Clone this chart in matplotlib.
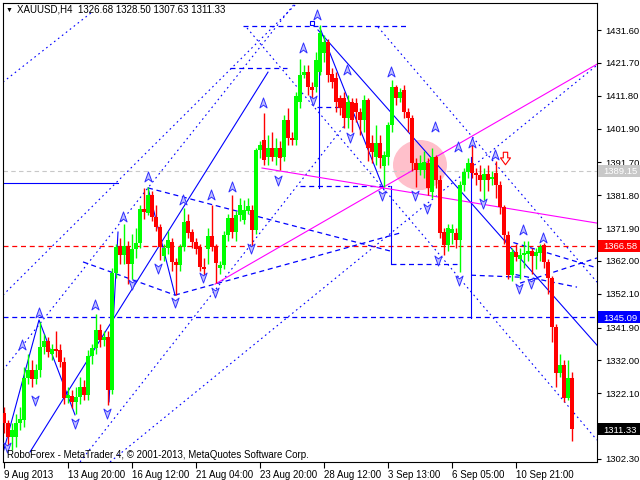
import matplotlib
matplotlib.use("Agg")
import matplotlib.pyplot as plt
import matplotlib.transforms as mtransforms
from matplotlib.path import Path
from matplotlib.patches import Ellipse, Rectangle
import numpy as np

plt.rcParams['font.family'] = ['Liberation Sans', 'DejaVu Sans']

# XAUUSD H4 candles, 9 Aug 2013 .. 11 Sep 2013
opens = [1316.2, 1313.1, 1309.0, 1309.0, 1313.1, 1314.0, 1326.7, 1329.1, 1326.5, 1329.0,
         1336.0, 1337.9, 1334.0, 1335.5, 1335.0, 1331.5, 1320.7, 1321.3, 1319.5, 1321.0,
         1324.0, 1321.5, 1333.3, 1335.8, 1341.2, 1338.2, 1339.1, 1323.1, 1358.4, 1366.2,
         1363.8, 1366.5, 1361.0, 1365.5, 1367.5, 1377.6, 1376.4, 1382.0, 1375.2, 1372.2,
         1363.5, 1365.9, 1367.7, 1361.7, 1360.8, 1366.2, 1374.0, 1370.7, 1367.7, 1366.2,
         1360.2, 1365.6, 1369.5, 1366.2, 1359.9, 1360.8, 1369.8, 1374.9, 1370.7, 1375.8,
         1374.3, 1377.0, 1377.3, 1371.3, 1395.4, 1398.4, 1393.3, 1396.0, 1393.3, 1396.0,
         1393.3, 1404.5, 1399.0, 1398.4, 1409.9, 1418.0, 1418.9, 1414.4, 1414.4, 1418.9,
         1424.7, 1428.0, 1418.2, 1417.0, 1411.0, 1411.0, 1405.0, 1409.9, 1409.5, 1406.9,
         1404.5, 1410.5, 1397.5, 1393.3, 1397.5, 1390.5, 1393.3, 1403.0, 1414.4, 1411.1,
         1413.5, 1406.9, 1405.1, 1391.5, 1389.4, 1389.5, 1391.5, 1382.8, 1393.3, 1386.4,
         1370.7, 1366.8, 1370.4, 1370.4, 1368.3, 1384.9, 1388.8, 1391.5, 1388.5, 1387.9,
         1386.4, 1388.2, 1386.7, 1388.5, 1384.9, 1378.2, 1369.8, 1357.7, 1364.7, 1362.6,
         1363.8, 1364.1, 1365.0, 1363.5, 1364.4, 1366.8, 1361.7, 1356.8, 1342.1, 1328.2,
         1330.6, 1320.7, 1326.68]
highs = [1318.0, 1314.0, 1313.0, 1316.0, 1318.0, 1330.0, 1334.0, 1332.0, 1331.0, 1343.6,
         1340.0, 1339.0, 1337.0, 1341.0, 1337.0, 1333.0, 1324.0, 1323.0, 1324.0, 1327.0,
         1326.0, 1335.0, 1337.0, 1346.0, 1343.0, 1341.0, 1341.0, 1360.0, 1367.0, 1369.0,
         1373.0, 1368.0, 1370.0, 1372.0, 1379.0, 1384.0, 1384.3, 1383.0, 1379.0, 1373.0,
         1367.0, 1371.0, 1369.0, 1363.0, 1367.0, 1378.0, 1376.0, 1371.5, 1369.0, 1367.0,
         1363.0, 1372.0, 1378.9, 1367.0, 1362.0, 1371.0, 1376.0, 1382.0, 1377.0, 1381.0,
         1380.4, 1381.0, 1379.0, 1396.0, 1398.0, 1406.6, 1400.0, 1401.0, 1399.0, 1398.0,
         1406.0, 1408.0, 1401.0, 1413.0, 1423.0, 1421.0, 1421.0, 1416.0, 1425.0, 1433.1,
         1430.0, 1429.0, 1420.0, 1419.0, 1412.0, 1413.0, 1412.0, 1411.0, 1411.0, 1408.0,
         1412.0, 1411.0, 1400.0, 1403.0, 1400.0, 1395.0, 1404.0, 1416.5, 1415.0, 1414.0,
         1415.0, 1408.0, 1406.0, 1393.0, 1394.0, 1395.0, 1393.0, 1396.0, 1394.0, 1388.0,
         1372.0, 1373.0, 1373.0, 1372.0, 1386.0, 1390.0, 1393.0, 1397.0, 1390.0, 1391.0,
         1390.0, 1391.0, 1389.0, 1392.0, 1386.0, 1379.0, 1371.0, 1366.0, 1367.0, 1366.0,
         1368.0, 1368.0, 1366.0, 1366.0, 1367.0, 1367.5, 1362.5, 1357.5, 1343.0, 1334.0,
         1332.0, 1332.0, 1328.50]
lows = [1310.0, 1305.9, 1305.0, 1306.0, 1311.0, 1312.0, 1325.0, 1324.0, 1325.0, 1327.0,
        1334.0, 1333.0, 1332.0, 1333.0, 1330.0, 1319.0, 1319.2, 1317.7, 1315.8, 1319.0,
        1320.0, 1320.0, 1331.0, 1334.0, 1336.0, 1336.5, 1318.6, 1322.0, 1357.0, 1361.0,
        1361.0, 1355.0, 1356.5, 1363.0, 1366.0, 1374.5, 1375.8, 1374.0, 1371.0, 1362.3,
        1362.0, 1364.0, 1359.0, 1351.7, 1359.0, 1365.0, 1369.0, 1366.0, 1364.0, 1359.0,
        1357.0, 1361.0, 1365.0, 1355.3, 1358.0, 1359.5, 1368.0, 1369.0, 1368.0, 1374.0,
        1373.0, 1376.0, 1366.2, 1370.0, 1393.0, 1391.0, 1391.0, 1392.0, 1391.0, 1389.4,
        1392.0, 1397.0, 1397.0, 1397.0, 1408.0, 1417.0, 1412.0, 1411.0, 1413.0, 1418.0,
        1422.0, 1416.0, 1414.0, 1407.0, 1406.0, 1402.0, 1402.0, 1401.0, 1404.0, 1400.0,
        1401.0, 1392.0, 1391.5, 1391.0, 1390.0, 1384.3, 1391.0, 1401.0, 1409.0, 1410.0,
        1405.0, 1401.0, 1389.0, 1384.3, 1388.0, 1387.0, 1382.0, 1381.0, 1384.0, 1369.0,
        1363.8, 1365.0, 1367.0, 1366.0, 1358.7, 1383.0, 1387.0, 1387.0, 1385.0, 1383.0,
        1380.4, 1383.0, 1385.0, 1381.0, 1376.0, 1367.0, 1356.5, 1356.0, 1362.0, 1356.5,
        1360.0, 1362.0, 1358.0, 1359.5, 1362.0, 1360.0, 1352.0, 1337.6, 1324.0, 1327.0,
        1319.5, 1320.0, 1307.63]
closes = [1313.1, 1309.0, 1311.0, 1313.1, 1314.5, 1326.7, 1329.1, 1326.5, 1329.0, 1336.0,
          1337.9, 1334.5, 1335.5, 1334.8, 1331.5, 1320.7, 1321.5, 1319.5, 1321.0, 1324.0,
          1321.5, 1333.3, 1335.8, 1341.2, 1338.2, 1339.0, 1323.1, 1358.4, 1366.2, 1363.8,
          1366.5, 1361.0, 1365.5, 1367.5, 1377.6, 1376.8, 1382.0, 1375.2, 1372.2, 1366.2,
          1365.9, 1368.3, 1361.7, 1360.8, 1366.2, 1373.7, 1370.4, 1367.7, 1365.6, 1360.2,
          1359.5, 1369.5, 1366.2, 1361.4, 1360.8, 1369.8, 1374.9, 1370.7, 1375.8, 1378.9,
          1377.3, 1378.5, 1371.3, 1395.4, 1396.9, 1392.4, 1396.0, 1393.3, 1396.0, 1393.0,
          1404.5, 1399.0, 1398.4, 1411.7, 1418.0, 1418.9, 1414.4, 1413.5, 1422.6, 1430.7,
          1428.0, 1418.0, 1416.0, 1409.9, 1408.0, 1405.0, 1409.9, 1404.5, 1406.9, 1404.5,
          1410.5, 1396.0, 1394.8, 1397.5, 1393.0, 1393.9, 1403.0, 1414.4, 1411.1, 1413.0,
          1406.9, 1405.1, 1391.5, 1389.4, 1391.5, 1391.8, 1384.0, 1393.3, 1386.4, 1370.4,
          1366.8, 1371.9, 1371.5, 1368.3, 1384.9, 1388.8, 1391.5, 1388.5, 1387.9, 1386.4,
          1388.2, 1386.4, 1387.3, 1384.9, 1378.2, 1369.8, 1357.7, 1364.7, 1363.2, 1363.8,
          1364.4, 1365.0, 1363.5, 1364.7, 1366.2, 1361.7, 1356.8, 1342.1, 1328.2, 1330.6,
          1320.7, 1326.7, 1311.33]

date_ticks = [0, 16, 32, 48, 64, 80, 96, 112, 128]
date_labels = ['9 Aug 2013', '13 Aug 20:00', '16 Aug 12:00', '21 Aug 04:00', '23 Aug 20:00',
               '28 Aug 12:00', '3 Sep 13:00', '6 Sep 05:00', '10 Sep 21:00']
price_ticks = [1431.60, 1421.70, 1411.80, 1401.90, 1391.70, 1381.80, 1371.90, 1362.00,
               1352.10, 1341.90, 1332.00, 1322.10, 1302.30]

bid_level = 1389.15
res_level = 1366.58
sup_level = 1345.09
last_close = 1311.33

# trend lines as (bar, price) pairs
solid_lines = [
    [(-0.25, 1385.5), (28.5, 1385.5)],
    [(6.5, 1304.4), (66.0, 1418.9)],
    [(-0.25, 1304.1), (8.75, 1344.2), (17.75, 1315.6)],
    [(26.25, 1319.5), (28.5, 1370.7)],
    [(36.0, 1384.0), (42.75, 1351.7)],
    [(78.5, 1431.6), (148.25, 1336.6)],
    [(79.0, 1432.2), (95.0, 1383.4)],
    [(78.75, 1421.6), (78.75, 1384.0)],
    [(96.75, 1384.6), (96.75, 1361.1)],
    [(116.75, 1393.3), (116.75, 1344.8)],
]
dashed_lines = [
    [(59.75, 1432.8), (101.0, 1432.8)],
    [(56.5, 1420.1), (70.75, 1420.1)],
    [(78.25, 1408.4), (89.0, 1408.4)],
    [(74.0, 1384.6), (96.5, 1384.6)],
    [(96.75, 1361.1), (113.25, 1361.1)],
    [(116.75, 1357.7), (129.0, 1357.1)],
    [(36.0, 1384.0), (96.5, 1365.0)],
    [(19.75, 1361.7), (42.75, 1351.7)],
    [(42.75, 1351.7), (99.0, 1370.4)],
    [(125.25, 1368.3), (148.25, 1359.9)],
    [(129.0, 1355.3), (148.25, 1362.9)],
    [(125.75, 1358.4), (143.25, 1354.1)],
]
dotted_lines = [
    [(-0.25, 1415.9), (22.0, 1437.0)],
    [(-0.25, 1351.7), (73.25, 1439.7)],
    [(-0.25, 1329.1), (72.75, 1439.7)],
    [(19.0, 1301.4), (85.25, 1403.0)],
    [(26.5, 1301.4), (148.25, 1421.0)],
    [(93.5, 1432.5), (148.25, 1355.6)],
    [(60.75, 1432.2), (148.25, 1308.0)],
]
magenta_lines = [
    [(52.75, 1355.0), (148.25, 1421.3)],
    [(64.5, 1390.0), (148.25, 1373.4)],
]

up_x = [4.5, 8.75, 22.75, 29.75, 36.0, 44.75, 51.75, 57.0, 64.75, 74.75, 78.25, 85.75,
        96.75, 107.75, 113.5, 117.0, 122.75, 129.75, 134.75]
up_y = [1336.6, 1346.3, 1348.7, 1375.2, 1387.3, 1380.4, 1381.9, 1384.3, 1409.6, 1426.2,
        1436.1, 1419.5, 1418.9, 1402.4, 1396.3, 1397.5, 1393.9, 1371.3, 1368.9]
dn_x = [0.75, 7.75, 17.75, 25.75, 32.0, 38.5, 42.75, 49.75, 52.75, 61.75, 68.5, 77.25,
        86.5, 94.5, 102.75, 105.75, 108.5, 113.75, 119.75, 128.75, 131.75]
dn_y = [1305.9, 1320.1, 1313.1, 1316.2, 1355.0, 1359.9, 1349.6, 1357.1, 1352.6, 1365.9,
        1386.4, 1410.5, 1399.3, 1381.9, 1381.9, 1377.9, 1362.3, 1356.2, 1379.4, 1353.8,
        1355.3]

fig = plt.figure(figsize=(6.4, 4.8), dpi=100)
ax = fig.add_axes([3 / 640, 18 / 480, 594 / 640, 459 / 480])
ax.set_xlim(-0.25, 148.25)
ax.set_ylim(1301.39, 1439.74)

ax.add_patch(Ellipse((104, 1390.9), 13.5, 15.1, color='#ffc0cb', lw=0, zorder=0.5))

ax.axhline(bid_level, color='#c8c8c8', lw=0.8, dashes=(4, 3), zorder=1)
ax.axhline(res_level, color='#ff0000', lw=0.9, dashes=(4, 3), zorder=1)
ax.axhline(sup_level, color='#0000ff', lw=0.9, dashes=(4, 3), zorder=1)

for pts in solid_lines:
    xs, ys = zip(*pts)
    ax.plot(xs, ys, color='#0000ff', lw=0.8, zorder=2)
for pts in dashed_lines:
    xs, ys = zip(*pts)
    ax.plot(xs, ys, color='#0000ff', lw=0.9, dashes=(4, 3), zorder=2)
for pts in dotted_lines:
    xs, ys = zip(*pts)
    ax.plot(xs, ys, color='#0000ff', lw=0.8, dashes=(1.5, 3), zorder=2)
for pts in magenta_lines:
    xs, ys = zip(*pts)
    ax.plot(xs, ys, color='#ff00ff', lw=0.8, zorder=2)

# candles
x = np.arange(len(closes))
o = np.array(opens)
c = np.array(closes)
colors = np.where(c >= o, '#00ff00', '#ff0000')
ax.vlines(x, lows, highs, colors=colors, lw=1.0, zorder=3)
body_h = np.maximum(np.abs(c - o), 0.4)
ax.bar(x, body_h, bottom=np.minimum(o, c), width=0.8, color=colors, linewidth=0, zorder=4)

# fractal arrows
up_mark = Path([(0, 1), (0.65, -0.8), (0, -0.3), (-0.65, -0.8), (0, 1)],
               [Path.MOVETO, Path.LINETO, Path.LINETO, Path.LINETO, Path.CLOSEPOLY])
dn_mark = Path([(0, -1), (0.65, 0.8), (0, 0.3), (-0.65, 0.8), (0, -1)],
               [Path.MOVETO, Path.LINETO, Path.LINETO, Path.LINETO, Path.CLOSEPOLY])
ax.plot(up_x, up_y, ls='none', marker=up_mark, ms=8, mfc='#c0c0ff', mec='#3030ff', mew=0.7, zorder=5)
ax.plot(dn_x, dn_y, ls='none', marker=dn_mark, ms=8, mfc='#c0c0ff', mec='#3030ff', mew=0.7, zorder=5)

ax.plot([77], [1433.7], ls='none', marker='s', ms=3.5, mfc='white', mec='#0000ff', mew=0.8, zorder=5)
red_arrow = Path([(-0.35, 1), (0.35, 1), (0.35, 0.1), (0.8, 0.1), (0, -1), (-0.8, 0.1), (-0.35, 0.1), (-0.35, 1)],
                 [Path.MOVETO] + [Path.LINETO] * 6 + [Path.CLOSEPOLY])
ax.plot([125.25], [1393.0], ls='none', marker=red_arrow, ms=9, mfc='white', mec='#ff0000', mew=0.8, zorder=5)

# axes look
for s in ax.spines.values():
    s.set_color('black')
    s.set_linewidth(0.8)
ax.yaxis.tick_right()
ax.set_yticks(price_ticks)
ax.set_yticklabels(['%.2f' % p for p in price_ticks])
ax.tick_params(axis='y', direction='out', length=3, width=0.8, labelsize=6.8, pad=3, colors='black')
ax.set_xticks(date_ticks)
ax.set_xticklabels(date_labels)
for lab in ax.get_xticklabels():
    lab.set_ha('left')
ax.tick_params(axis='x', direction='out', length=4, width=0.8, labelsize=7, pad=2, colors='black')

# price boxes on the right scale
ftrans = mtransforms.blended_transform_factory(fig.transFigure, ax.transData)
for val, bg in [(bid_level, '#c8c8c8'), (res_level, '#ff0000'), (sup_level, '#0000ff'), (last_close, '#000000')]:
    fig.patches.append(Rectangle((598 / 640, val - 1.75), 42 / 640, 3.5, transform=ftrans,
                                 facecolor=bg, edgecolor='none', zorder=3))
    fig.text(603 / 640, val - 0.3, '%.2f' % val, transform=ftrans, ha='left', va='center',
             fontsize=6.8, color='white', zorder=4)

fig.text(6 / 640, 1 - 10 / 480, '\u25bc', fontsize=5, va='center', ha='left', color='black')
fig.text(17 / 640, 1 - 10 / 480, 'XAUUSD,H4  1326.68 1328.50 1307.63 1311.33', fontsize=7,
         va='center', ha='left', color='black')
fig.text(7 / 640, 1 - 455 / 480, 'RoboForex - MetaTrader 4, \u00a9 2001-2013, MetaQuotes Software Corp.',
         fontsize=7, va='center', ha='left', color='black')

fig.savefig('out.png', dpi=100, facecolor='white')
